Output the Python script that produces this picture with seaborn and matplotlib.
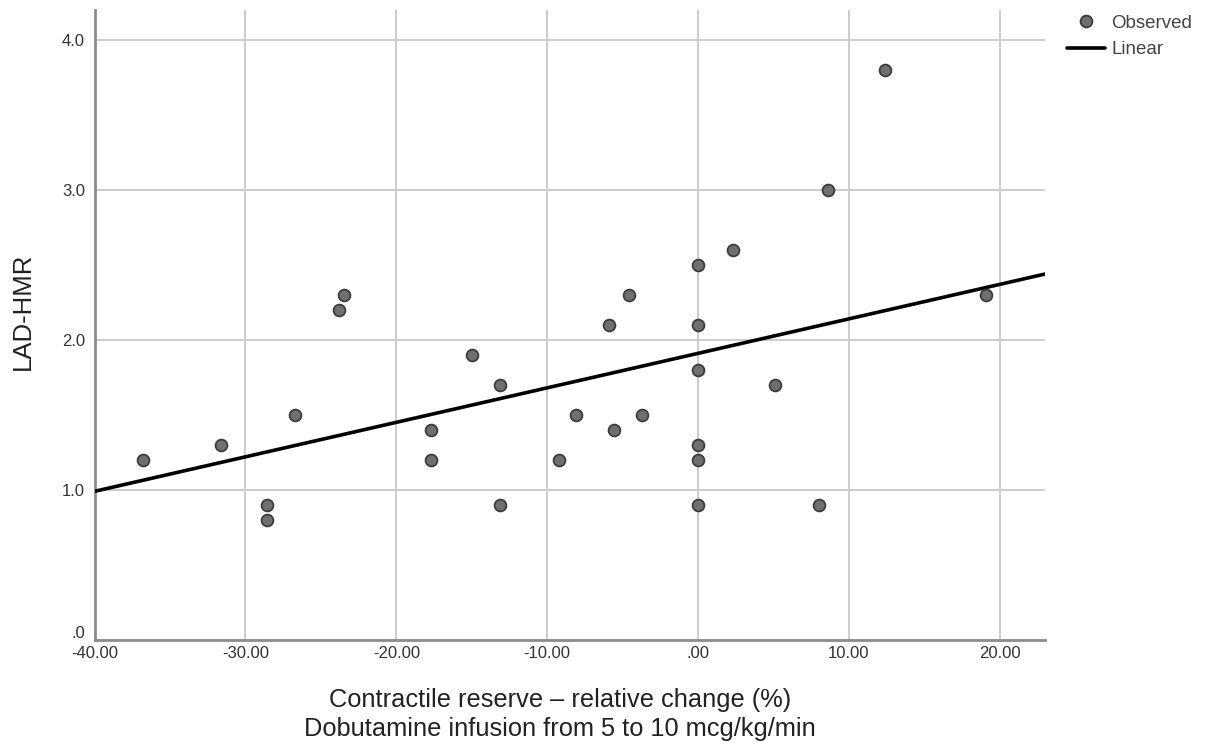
import numpy as np
import pandas as pd
import matplotlib
matplotlib.use("Agg")
import matplotlib.pyplot as plt
import matplotlib.transforms as mtransforms
from matplotlib.lines import Line2D
from matplotlib.ticker import FuncFormatter, MultipleLocator
import seaborn as sns

# Contractile reserve (% relative change) vs LAD-HMR
contractile_reserve = [-36.8, -31.6, -28.6, -28.6, -26.7, -23.8, -23.5, -17.7, -17.7,
                       -15.0, -13.1, -13.1, -9.2, -8.1, -5.9, -5.6, -4.6, -3.7,
                       0.0, 0.0, 0.0, 0.0, 0.0, 0.0, 2.3, 5.1, 8.0, 8.6, 12.4, 19.1]
lad_hmr = [1.2, 1.3, 0.9, 0.8, 1.5, 2.2, 2.3, 1.4, 1.2,
           1.9, 1.7, 0.9, 1.2, 1.5, 2.1, 1.4, 2.3, 1.5,
           2.5, 2.1, 1.8, 1.3, 1.2, 0.9, 2.6, 1.7, 0.9, 3.0, 3.8, 2.3]

df = pd.DataFrame({"cr": contractile_reserve, "hmr": lad_hmr})

sns.set_theme(style="white")
plt.rcParams["font.family"] = ["Liberation Sans", "DejaVu Sans"]

fig = plt.figure(figsize=(12.07, 7.49), dpi=100)
ax = fig.add_axes([0.0784, 0.1455, 0.7874, 0.8412])

x_min, x_max = -40, 23
y_min, y_max = 0, 4.2
ax.set_xlim(x_min, x_max)
ax.set_ylim(y_min, y_max)

grid_col = "#cccccc"
ax.xaxis.set_major_locator(MultipleLocator(10))
ax.yaxis.set_major_locator(MultipleLocator(1))
ax.grid(True, color=grid_col, linewidth=1.4)
ax.set_axisbelow(True)

# Least-squares line across the full x range
sns.regplot(data=df, x="cr", y="hmr", ax=ax, scatter=False, ci=None,
            truncate=False, line_kws=dict(color="black", linewidth=2.6, zorder=3))

sns.scatterplot(data=df, x="cr", y="hmr", ax=ax, s=72, color="#6f6f6f",
                edgecolor="#3c3c3c", linewidth=1.3, zorder=4, legend=False)

ax.set_xlim(x_min, x_max)
ax.set_ylim(y_min, y_max)

for side in ["top", "right"]:
    ax.spines[side].set_visible(False)
for side in ["left", "bottom"]:
    ax.spines[side].set_color("#8c8c8c")
    ax.spines[side].set_linewidth(2.0)


def strip_zero(fmt):
    def f(v, pos):
        s = fmt % v
        if s.startswith("0."):
            s = s[1:]
        elif s.startswith("-0."):
            s = "-" + s[2:]
        return s
    return f


ax.xaxis.set_major_formatter(FuncFormatter(strip_zero("%.2f")))
ax.yaxis.set_major_formatter(FuncFormatter(strip_zero("%.1f")))
ax.tick_params(axis="both", length=0, labelsize=12, labelcolor="#333333")
ax.tick_params(axis="x", pad=4)
ax.tick_params(axis="y", pad=7)

# lift the ".0" label so it sits clear of the x tick labels
fig.canvas.draw()
for lbl in ax.get_yticklabels():
    if lbl.get_text() == ".0":
        lbl.set_transform(lbl.get_transform() +
                          mtransforms.ScaledTranslation(0, 8 / 100, fig.dpi_scale_trans))

ax.set_xlabel("Contractile reserve \u2013 relative change (%)\nDobutamine infusion from 5 to 10 mcg/kg/min",
              fontsize=18.3, color="#222222", linespacing=1.3)
ax.xaxis.set_label_coords(0.4897, -0.1183)
ax.xaxis.label.set_va("center")
ax.set_ylabel("LAD-HMR", fontsize=18.5, color="#222222")
ax.yaxis.set_label_coords(-0.0754, 0.522)
ax.yaxis.label.set_va("center")

handles = [
    Line2D([0], [0], marker="o", linestyle="none", markersize=8.5,
           markerfacecolor="#6f6f6f", markeredgecolor="#3c3c3c", markeredgewidth=1.3),
    Line2D([0], [0], color="black", linewidth=2.6),
]
fig.legend(handles, ["Observed", "Linear"], loc="upper left",
           bbox_to_anchor=(0.8703, 1.003), frameon=False, fontsize=13.5,
           handlelength=2.0, handletextpad=0.35, labelspacing=0.5,
           labelcolor="#444444")

fig.savefig("out.png", dpi=100)
